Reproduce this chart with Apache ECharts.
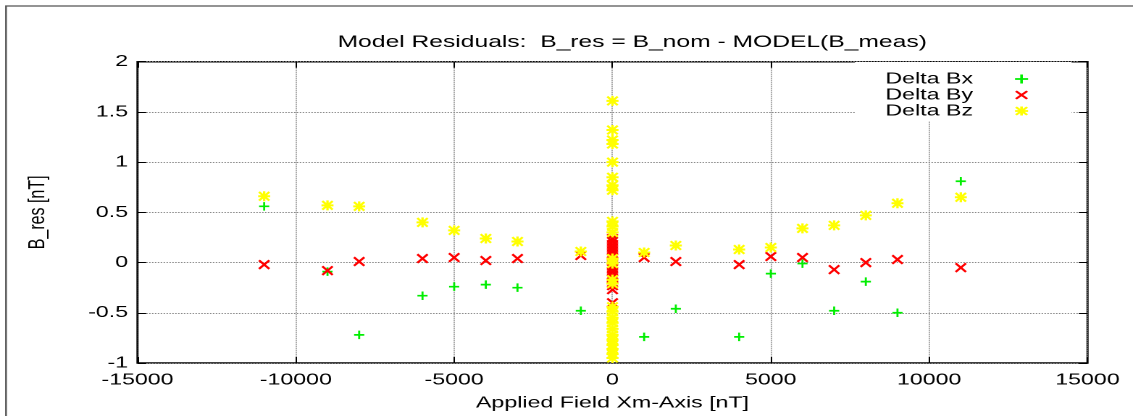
<!DOCTYPE html>
<html>
<head>
<meta charset="utf-8">
<script src="https://cdn.jsdelivr.net/npm/echarts@6/dist/echarts.min.js"></script>
<style>
  html, body { margin: 0; padding: 0; background: #fff; overflow: hidden; }
  /* the original plot is a horizontally stretched gnuplot image, so draw
     narrow and stretch the whole canvas */
  #chart { width: 782px; height: 416px; transform: scaleX(1.4488); transform-origin: 0 0; }
</style>
</head>
<body>
<div id="chart"></div>
<script>
// applied field steps [nT] and residuals [nT]
const fieldX = [-11000, -9000, -8000, -6000, -5000, -4000, -3000, -1000, 1000, 2000, 4000, 5000, 6000, 7000, 8000, 9000, 11000];
const deltaBx = [0.56, -0.09, -0.72, -0.33, -0.24, -0.22, -0.25, -0.48, -0.74, -0.46, -0.74, -0.11, -0.01, -0.48, -0.19, -0.50, 0.81];
const deltaBy = [-0.02, -0.08, 0.01, 0.04, 0.05, 0.02, 0.04, 0.07, 0.05, 0.01, -0.02, 0.06, 0.05, -0.07, 0.00, 0.03, -0.05];
const deltaBz = [0.66, 0.57, 0.56, 0.40, 0.32, 0.24, 0.21, 0.11, 0.10, 0.17, 0.13, 0.15, 0.34, 0.37, 0.47, 0.59, 0.65];

// residuals measured at zero applied field
const zeroBx = [0.37, 0.25, 0.12, -0.05, -0.16];
const zeroBy = [0.24, 0.21, 0.18, 0.15, 0.12, 0.09, 0.06, -0.03, -0.06, -0.09, -0.12, -0.15, -0.23, -0.27, -0.40];
const zeroBz = [1.61, 1.32, 1.22, 1.18, 1.00, 0.85, 0.77, 0.72, 0.41, 0.36, 0.30, 0.04, -0.01, -0.17, -0.21,
  -0.44, -0.49, -0.55, -0.60, -0.66, -0.72, -0.77, -0.82, -0.86, -0.91, -0.95];

const xTicks = [-15000, 15000, 5000];   // min, max, step
const yTicks = [-1, 2, 0.5];

const FONT = 'Liberation Sans';
const S = 1133 / 782;   // horizontal stretch, picture px -> canvas px is x / S

const plusPath = 'path://M4,0H6V4H10V6H6V10H4V6H0V4H4Z';
const crossPath = 'path://M0,1.4L1.4,0L5,3.6L8.6,0L10,1.4L6.4,5L10,8.6L8.6,10L5,6.4L1.4,10L0,8.6L3.6,5Z';
const starPath = 'path://M4,0H6V4H10V6H6V10H4V6H0V4H4ZM0,1.4L1.4,0L5,3.6L8.6,0L10,1.4L6.4,5L10,8.6L8.6,10L5,6.4L1.4,10L0,8.6L3.6,5Z';

function pairs(xs, ys, zeros) {
  var out = [];
  for (var i = 0; i < xs.length; i++) out.push([xs[i], ys[i]]);
  for (var j = 0; j < zeros.length; j++) out.push([0, zeros[j]]);
  return out;
}

const chart = echarts.init(document.getElementById('chart'), null, { renderer: 'canvas', devicePixelRatio: 2 });

function valueAxis(ticks, extra) {
  return Object.assign({
    type: 'value',
    min: ticks[0],
    max: ticks[1],
    interval: ticks[2],
    axisLine: { show: false, onZero: false },
    axisTick: { show: true, inside: true, length: 6, lineStyle: { color: '#000', width: 1 } },
    splitLine: { show: false },
    axisLabel: { show: false }
  }, extra);
}

var option = {
  backgroundColor: '#fff',
  animation: false,
  title: {
    text: 'Model Residuals:  B_res = B_nom - MODEL(B_meas)',
    left: 625 / S,
    textAlign: 'center',
    top: 29,
    textStyle: { fontFamily: FONT, fontSize: 17, fontWeight: 'normal', color: '#000' }
  },
  legend: {
    orient: 'vertical',
    left: 855 / S,
    top: 62,
    padding: [9, 30, 2, 21],
    backgroundColor: '#fff',
    align: 'right',
    itemGap: 0,
    itemWidth: 9,
    itemHeight: 10,
    data: ['Delta Bx', 'Delta By', 'Delta Bz'],
    // gap between the label and its marker, as in the gnuplot key
    textStyle: { fontFamily: FONT, fontSize: 16, color: '#000', lineHeight: 15.5, padding: [0, 24, 0, 0] }
  },
  grid: {
    left: 137.5 / S,
    right: 45.5 / S,
    top: 61.7,
    bottom: 52.7,
    show: true,
    borderColor: '#000',
    borderWidth: 1.5,
    backgroundColor: 'transparent'
  },
  xAxis: [
    valueAxis(xTicks, {
      position: 'bottom',
      splitLine: { show: true, lineStyle: { color: '#888', type: 'dotted', width: 1 } },
      axisLabel: {
        show: true, margin: 9, color: '#000', fontFamily: FONT, fontSize: 16,
        formatter: function (v) { return String(v); }
      },
      name: 'Applied Field Xm-Axis [nT]',
      nameLocation: 'middle',
      nameGap: 32,
      nameTextStyle: { fontFamily: FONT, fontSize: 16, color: '#000' }
    }),
    valueAxis(xTicks, { position: 'top' })
  ],
  yAxis: [
    valueAxis(yTicks, {
      position: 'left',
      splitLine: { show: true, lineStyle: { color: '#888', type: 'dotted', width: 1 } },
      axisLabel: {
        show: true, margin: 6.5, color: '#000', fontFamily: FONT, fontSize: 16,
        formatter: function (v) { return String(v); }
      },
      name: 'B_res [nT]',
      nameLocation: 'middle',
      nameRotate: 90,
      nameGap: 61,
      nameTextStyle: { fontFamily: FONT, fontSize: 16, color: '#000' }
    }),
    valueAxis(yTicks, { position: 'right' })
  ],
  series: [{
    name: 'Delta Bx',
    type: 'scatter',
    symbol: plusPath,
    symbolSize: [7, 8.5],
    itemStyle: { color: '#00ee00', opacity: 1 },
    data: pairs(fieldX, deltaBx, zeroBx)
  }, {
    name: 'Delta By',
    type: 'scatter',
    symbol: crossPath,
    symbolSize: [8.3, 10],
    itemStyle: { color: '#ff0000', opacity: 1 },
    data: pairs(fieldX, deltaBy, zeroBy)
  }, {
    name: 'Delta Bz',
    type: 'scatter',
    symbol: starPath,
    symbolSize: [8.3, 10],
    itemStyle: { color: '#ffff00', opacity: 1 },
    data: pairs(fieldX, deltaBz, zeroBz)
  }],
  graphic: [{
    type: 'rect',
    silent: true,
    shape: { x: 6 / S, y: 6, width: 800, height: 420 },
    style: { fill: 'none', stroke: '#555', lineWidth: 1.2 }
  }]
};

chart.setOption(option);
</script>
</body>
</html>
